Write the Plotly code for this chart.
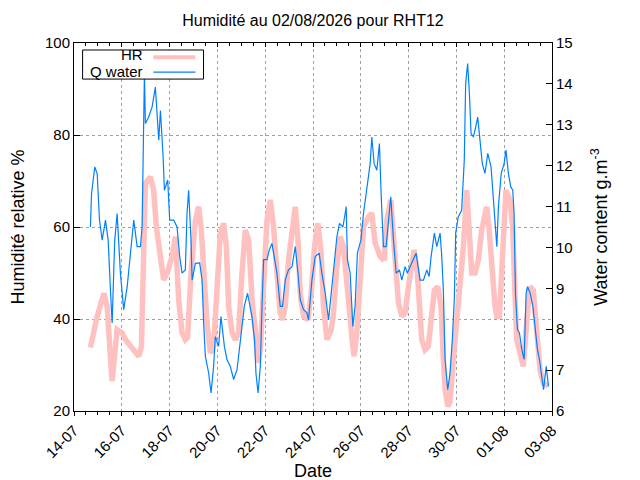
import pandas as pd
import plotly.graph_objects as go

# hours since 14-07 00:00 and values
hr_hours = [16.5, 23.3, 29.9, 33.3, 37.6, 38.3, 43.3, 48.3, 51.7, 60.0,
            65.0, 67.7, 70.0, 71.7, 76.7, 80.0, 82.7, 86.8, 90.0, 93.5,
            98.5, 101.8, 105.1, 108.5, 111.8, 114.1, 117.5, 121.9, 125.2, 127.6,
            130.2, 133.6, 136.9, 140.2, 143.6, 146.9, 150.3, 153.0, 155.3, 158.7,
            162.0, 165.3, 168.7, 172.0, 175.3, 177.0, 179.3, 182.0, 184.8, 187.1,
            190.4, 193.8, 197.1, 200.4, 203.8, 207.1, 209.4, 212.1, 215.4, 218.9,
            222.2, 224.9, 227.2, 230.5, 234.9, 238.2, 241.5, 244.9, 248.2, 250.5,
            254.0, 258.3, 260.6, 264.0, 267.3, 270.6, 273.3, 276.6, 280.0, 281.3,
            284.0, 287.4, 290.7, 295.7, 299.1, 302.4, 307.4, 311.4, 314.1, 318.1,
            320.8, 323.5, 325.8, 329.2, 332.5, 335.8, 339.2, 341.5, 344.8, 346.9,
            349.2, 352.5, 355.8, 358.6, 361.9, 365.3, 368.6, 370.9, 372.6, 375.3,
            377.6, 380.9, 384.3, 387.7, 391.0, 394.4, 396.7, 399.4, 402.7, 406.0,
            409.4, 414.4, 416.7, 419.4, 421.1, 422.8, 424.6, 427.2, 430.5, 433.8,
            437.8, 440.5, 442.8, 444.5, 447.8, 451.2, 454.5, 457.9, 461.2, 464.6,
            467.9, 471.2, 476.2]
hr_vals = [33.8, 40.6, 45.6, 42.7, 28.3, 26.5, 37.7, 37.0, 35.5, 33.3,
           31.9, 34.0, 54.4, 69.5, 70.9, 68.0, 60.0, 54.4, 48.5, 50.0,
           53.6, 57.9, 44.2, 37.0, 35.5, 36.0, 50.0, 61.5, 64.4, 60.0,
           50.0, 39.1, 32.6, 34.0, 46.3, 58.6, 60.8, 55.7, 42.7, 37.0,
           35.5, 37.0, 50.0, 59.3, 57.2, 50.0, 42.7, 37.7, 30.5, 33.3,
           50.0, 61.5, 65.9, 60.0, 50.0, 41.3, 39.8, 42.7, 52.8, 60.0,
           64.4, 57.2, 45.6, 40.6, 39.8, 45.6, 55.7, 60.8, 54.3, 42.7,
           35.5, 37.7, 41.3, 51.4, 57.9, 55.7, 48.5, 41.3, 34.0, 31.9,
           37.0, 48.5, 60.0, 62.2, 63.0, 56.5, 53.6, 52.8, 61.5, 65.9,
           58.6, 50.0, 43.5, 40.6, 41.3, 47.0, 52.8, 55.0, 50.0, 42.0,
           35.5, 33.3, 34.0, 39.8, 46.3, 47.0, 42.7, 31.2, 24.7, 21.0,
           22.0, 31.2, 39.1, 50.0, 55.7, 68.0, 60.0, 50.0, 50.0, 52.8,
           59.3, 64.4, 60.0, 51.4, 47.0, 42.7, 40.6, 40.6, 54.3, 68.0,
           65.9, 60.0, 45.6, 35.5, 32.6, 29.7, 39.1, 47.0, 46.3, 37.0,
           29.0, 26.1, 25.4]

q_hours = [16.5, 17.6, 20.9, 23.3, 25.6, 28.3, 31.6, 34.3, 36.6, 38.3,
           40.9, 43.3, 46.6, 49.9, 53.4, 56.7, 60.0, 63.4, 66.7, 68.4,
           70.7, 71.7, 75.0, 78.4, 81.7, 85.1, 86.8, 89.5, 90.8, 94.1,
           96.1, 100.1, 103.5, 106.1, 108.5, 111.8, 113.5, 115.1, 117.5, 118.6,
           121.9, 126.2, 128.6, 130.2, 131.9, 135.2, 137.6, 140.2, 141.9, 145.2,
           147.6, 151.0, 153.6, 157.0, 160.3, 163.7, 167.0, 171.0, 174.3, 178.7,
           181.3, 182.7, 184.8, 187.1, 188.8, 190.4, 193.8, 196.1, 198.8, 201.4,
           203.8, 207.1, 209.4, 212.1, 215.4, 218.9, 222.2, 224.9, 227.2, 230.5,
           233.9, 235.5, 238.9, 242.2, 246.2, 248.9, 252.3, 255.6, 258.3, 261.6,
           264.0, 266.6, 270.0, 272.3, 273.3, 274.6, 277.3, 280.0, 282.3, 284.6,
           288.1, 290.7, 293.4, 295.7, 297.4, 299.1, 301.4, 304.1, 306.7, 308.4,
           310.7, 313.4, 315.7, 318.1, 320.8, 323.5, 326.8, 329.2, 332.5, 334.8,
           337.5, 340.8, 343.5, 347.5, 350.9, 354.3, 356.6, 358.6, 361.9, 364.3,
           367.6, 369.3, 370.9, 372.6, 375.3, 377.6, 379.9, 381.9, 383.3, 385.9,
           389.3, 391.9, 393.3, 395.3, 396.9, 398.7, 401.0, 403.4, 405.4, 407.7,
           410.0, 412.7, 415.5, 418.8, 421.1, 422.8, 424.6, 426.2, 429.0, 431.9,
           433.8, 436.2, 438.6, 440.6, 441.9, 443.3, 445.3, 447.3, 449.7, 452.0,
           454.0, 455.4, 458.1, 460.8, 463.1, 465.4, 467.4, 469.9, 471.5, 474.2,
           476.5]
q_vals = [10.5, 11.32, 11.97, 11.8, 10.67, 10.18, 10.67, 10.18, 8.96, 8.15,
          10.18, 10.83, 9.37, 8.48, 9.04, 9.86, 10.67, 10.02, 10.02, 10.5,
          14.25, 13.03, 13.19, 13.43, 13.92, 12.62, 13.35, 12.21, 11.4, 11.65,
          10.67, 10.67, 10.5, 9.78, 9.37, 9.45, 10.83, 11.4, 10.18, 9.2,
          9.61, 9.62, 9.2, 8.15, 7.34, 6.93, 6.44, 7.09, 7.82, 7.58,
          8.31, 7.58, 7.26, 7.09, 6.77, 7.01, 7.74, 8.56, 8.88, 8.31,
          7.74, 6.93, 6.44, 7.09, 8.56, 9.7, 9.7, 9.94, 10.1, 9.7,
          9.37, 8.56, 8.56, 9.2, 9.45, 9.53, 10.02, 9.37, 8.72, 8.48,
          8.4, 8.23, 9.2, 9.78, 9.86, 9.37, 8.88, 8.23, 8.88, 9.53,
          10.26, 10.59, 10.5, 10.83, 11.0, 9.7, 9.37, 8.07, 8.56, 9.86,
          10.18, 10.83, 11.32, 11.81, 12.05, 12.7, 12.05, 11.89, 12.54, 11.32,
          10.02, 10.02, 10.67, 11.24, 10.18, 9.37, 9.45, 9.2, 9.53, 9.37,
          9.53, 9.7, 9.86, 9.2, 9.2, 9.45, 9.29, 9.78, 10.35, 10.02,
          10.35, 9.78, 8.96, 7.26, 6.52, 6.93, 7.74, 8.72, 10.35, 10.75,
          10.91, 12.13, 14.0, 14.5, 13.84, 12.79, 12.7, 12.95, 13.19, 12.62,
          12.05, 11.81, 12.3, 11.97, 11.16, 10.5, 10.02, 11.0, 11.81, 12.05,
          12.38, 11.81, 11.48, 11.4, 10.83, 8.88, 7.99, 7.91, 7.5, 7.26,
          8.88, 9.04, 8.88, 8.56, 7.99, 7.5, 7.26, 6.85, 6.52, 7.09,
          6.6]

start = pd.Timestamp("2026-07-14")
end = pd.Timestamp("2026-08-03")
hr_time = start + pd.to_timedelta(hr_hours, unit="h")
q_time = start + pd.to_timedelta(q_hours, unit="h")

PINK = "#ffc0c0"
BLUE = "#0080ff"
DAY = 86400000

fig = go.Figure()
fig.add_trace(go.Scatter(x=hr_time, y=hr_vals, mode="lines", name="HR",
                         line=dict(color=PINK, width=5.5), xaxis="x", yaxis="y"))
fig.add_trace(go.Scatter(x=q_time, y=q_vals, mode="lines", name="Q water",
                         line=dict(color=BLUE, width=1.2), xaxis="x2", yaxis="y2"))

grid = dict(showgrid=True, gridcolor="#a0a0a0", griddash="dot", gridwidth=1)

# page body adds 8px around the figure, margins compensate for it
fig.update_layout(
    width=640, height=480, autosize=False,
    margin=dict(l=66, r=96, t=35, b=77),
    paper_bgcolor="white", plot_bgcolor="white",
    font=dict(family="Liberation Sans", size=15, color="black"),
    showlegend=False,
    title=dict(text="Humidité au 02/08/2026 pour RHT12", x=0.5, xref="paper",
               y=1 - 12 / 480, yref="container", yanchor="middle",
               font=dict(size=16)),
    xaxis=dict(type="date", range=[start, end], tick0=start, dtick=2 * DAY,
               tickformat="%d-%m", tickangle=-45, ticks="outside", ticklen=4,
               tickcolor="black", showline=True, linecolor="black", linewidth=1,
               mirror=True, zeroline=False, automargin=False,
               minor=dict(dtick=DAY / 2, ticks="outside", ticklen=3,
                          tickcolor="black", showgrid=False),
               title=dict(text="Date", standoff=0), **grid),
    # top border tics pointing inward, as gnuplot mirrors them
    xaxis2=dict(type="date", overlaying="x", side="top", matches="x",
                tick0=start, dtick=2 * DAY, ticks="inside", ticklen=4,
                tickcolor="black", showticklabels=False, showgrid=False,
                zeroline=False, automargin=False,
                minor=dict(dtick=DAY / 2, ticks="inside", ticklen=3,
                           tickcolor="black", showgrid=False)),
    yaxis=dict(range=[20, 100], dtick=20, ticks="inside", ticklen=6,
               tickcolor="black", showline=True, linecolor="black", linewidth=1,
               mirror=True, zeroline=False, automargin=False,
               title=dict(text="Humidité relative %", standoff=24), **grid),
    yaxis2=dict(range=[6, 15], dtick=1, overlaying="y", side="right",
                ticks="inside", ticklen=6, tickcolor="black", showline=True,
                linecolor="black", linewidth=1, showgrid=False, zeroline=False,
                automargin=False,
                title=dict(text="Water content g.m<sup>-3</sup>", standoff=22)),
)

# gnuplot-style key: text on the left, line sample on the right
fig.add_shape(type="rect", xref="paper", yref="paper", x0=0.018, x1=0.271,
              y0=0.902, y1=0.981, line=dict(color="black", width=1),
              fillcolor="white", layer="above")
key = [("HR", PINK, 4, 0.968, 0.961), ("Q water", BLUE, 1.2, 0.922, 0.921)]
for label, color, width, ty, ly in key:
    fig.add_annotation(text=label, xref="paper", yref="paper", x=0.149, y=ty,
                       xanchor="right", yanchor="middle", showarrow=False)
    fig.add_shape(type="line", xref="paper", yref="paper", x0=0.166, x1=0.254,
                  y0=ly, y1=ly, line=dict(color=color, width=width), layer="above")

fig.write_html("out.html")
